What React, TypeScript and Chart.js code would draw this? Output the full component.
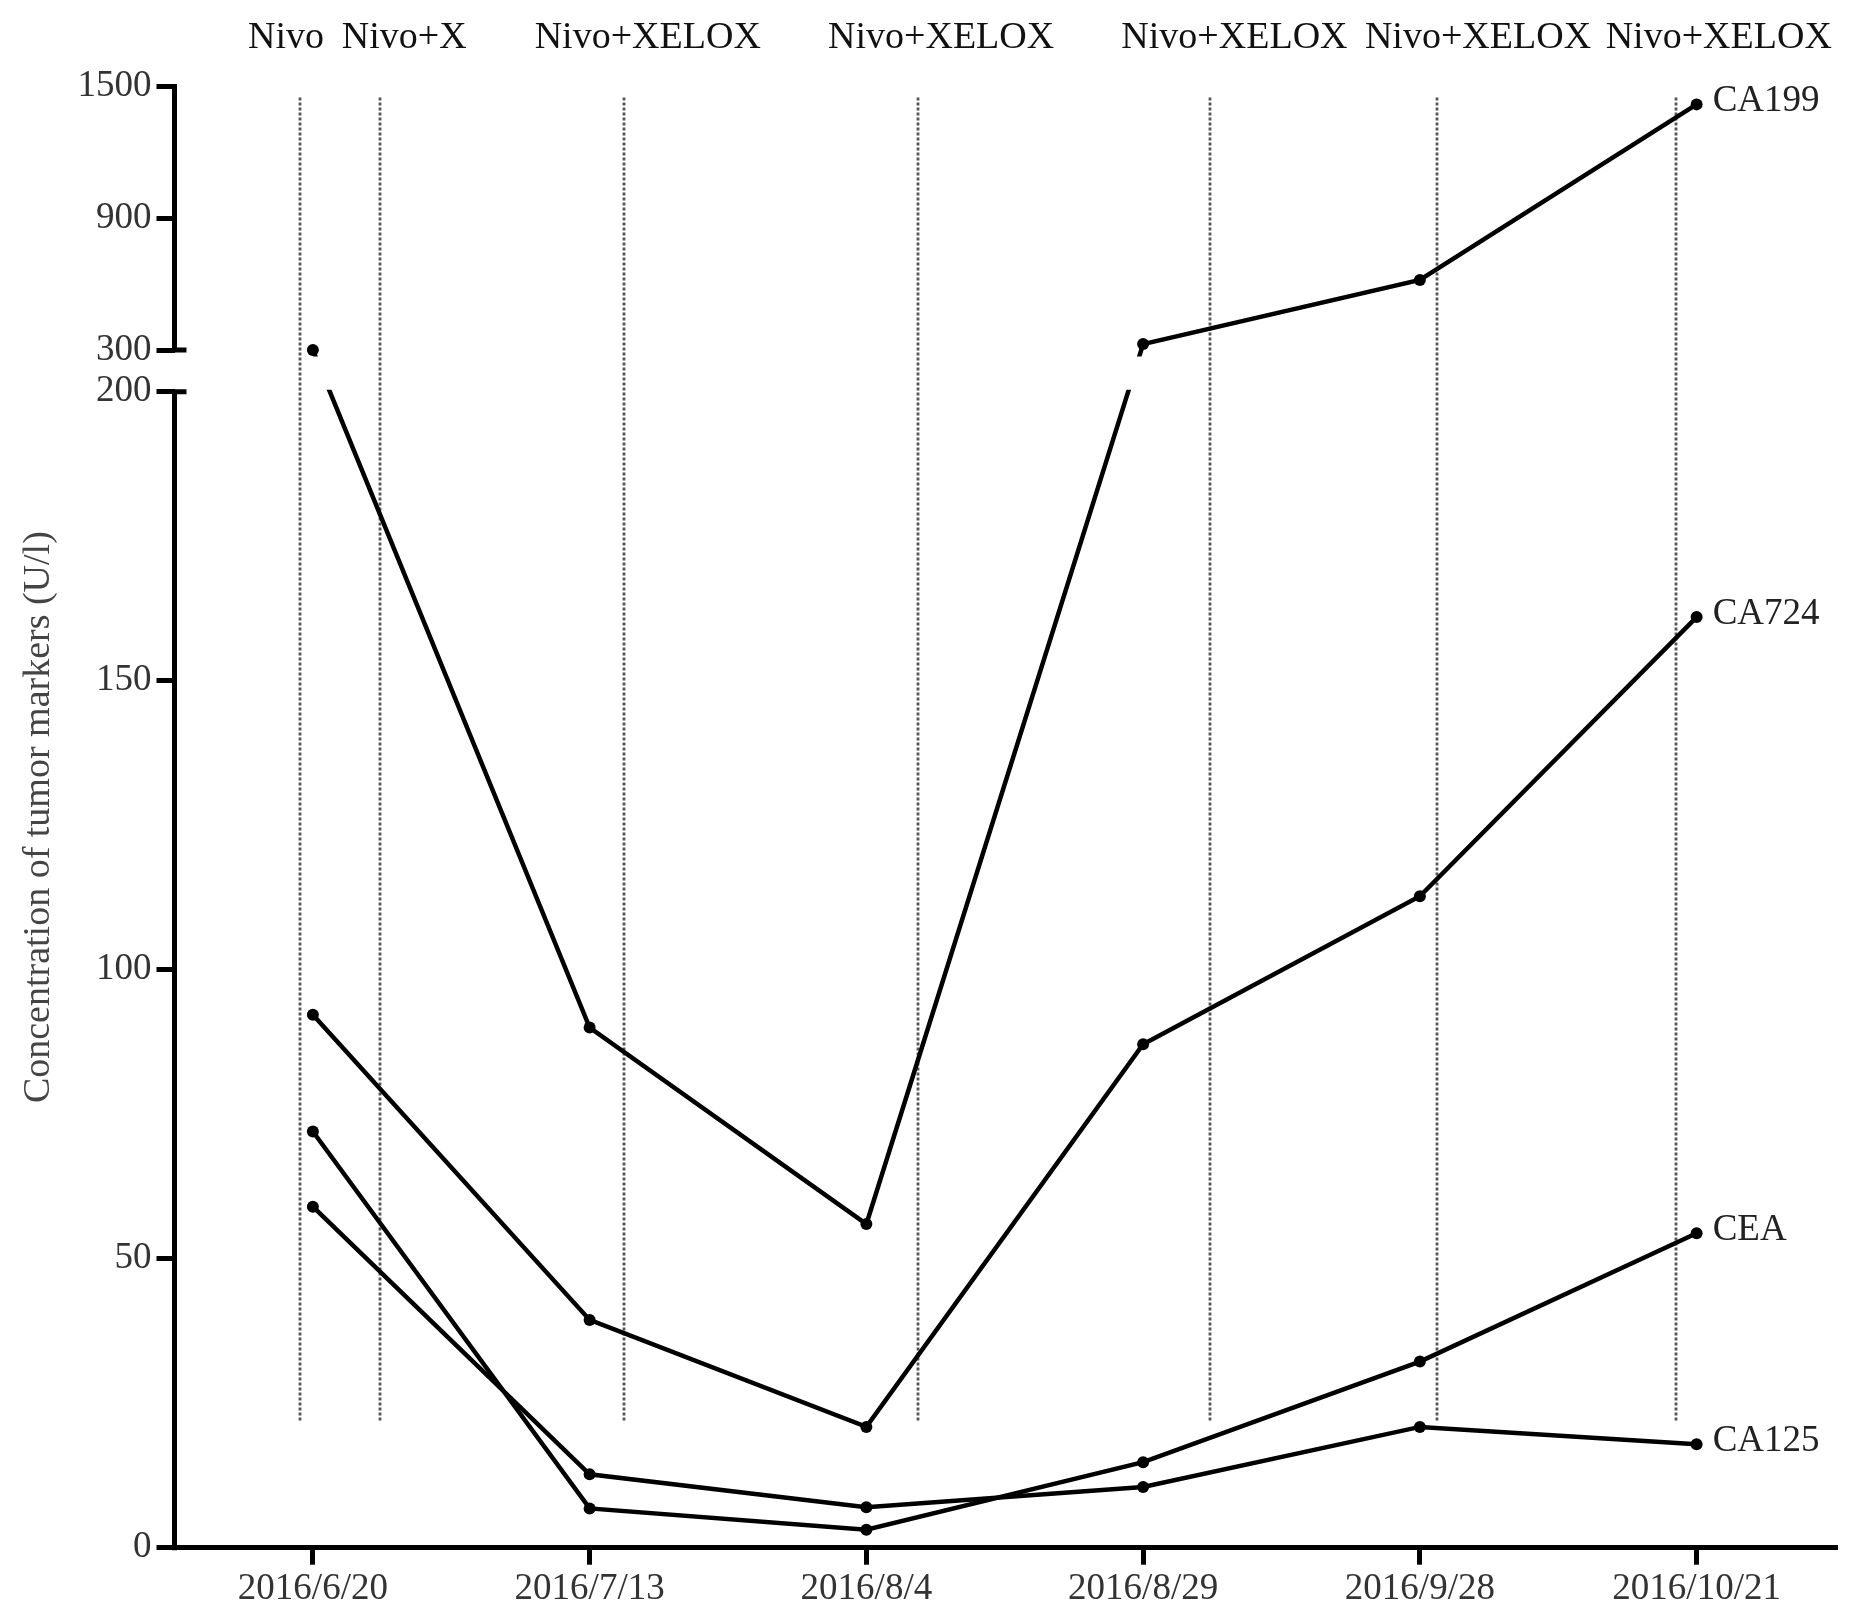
import React, { useEffect, useRef } from 'react';
import { Chart, LinearScale, registerables } from 'chart.js';

Chart.register(...registerables);

// ---- data ----
const dates = ['2016/6/20', '2016/7/13', '2016/8/4', '2016/8/29', '2016/9/28', '2016/10/21'];
const seriesNames = ['CA199', 'CA724', 'CEA', 'CA125'];
const ca199 = [300, 90, 56, 327, 619, 1419];
const ca724 = [92.2, 39.4, 20.9, 87.1, 112.7, 161];
const cea = [72, 6.8, 3.1, 14.8, 32.2, 54.4];
const ca125 = [59, 12.7, 7.0, 10.5, 20.9, 17.9];
const yTicks = [0, 50, 100, 150, 200, 300, 900, 1500];
const treatmentLabels = ['Nivo', 'Nivo+X', 'Nivo+XELOX', 'Nivo+XELOX', 'Nivo+XELOX', 'Nivo+XELOX', 'Nivo+XELOX'];
// treatment times, as fractional positions on the date axis
const treatmentAt = [-0.047, 0.244, 1.124, 2.187, 3.242, 4.061, 4.927];
const treatmentLabelAt = [-0.097, 0.33, 1.21, 2.27, 3.33, 4.21, 5.08];
const BREAK_LOW = 200;
const BREAK_HIGH = 300;
const Y_MAX = 1500;
const DOT_TOP = 1450;
const DOT_BOTTOM = 22;

// ---- layout / style ----
const W = 1861;
const H = 1623;
const LOW_FRAC = 0.7912;
const GAP_FRAC = 0.0285;
const UP_FRAC = 1 - LOW_FRAC - GAP_FRAC;
const FONT = '"Liberation Serif", "Times New Roman", serif';
const LINE_W = 4.5;
const AXIS_W = 5;

class BrokenAxis extends LinearScale {
  static id = 'brokenAxis';
  static defaults = LinearScale.defaults;
  buildTicks() {
    return yTicks.map((v) => ({ value: v }));
  }
  getPixelForValue(value: number) {
    let dec: number;
    if (value <= BREAK_LOW) dec = (value / BREAK_LOW) * LOW_FRAC;
    else if (value >= BREAK_HIGH)
      dec = LOW_FRAC + GAP_FRAC + ((value - BREAK_HIGH) / (Y_MAX - BREAK_HIGH)) * UP_FRAC;
    else dec = LOW_FRAC + ((value - BREAK_LOW) / (BREAK_HIGH - BREAK_LOW)) * GAP_FRAC;
    return this.getPixelForDecimal(dec);
  }
  getValueForPixel(pixel: number) {
    const dec = this.getDecimalForPixel(pixel);
    if (dec <= LOW_FRAC) return (dec / LOW_FRAC) * BREAK_LOW;
    if (dec >= LOW_FRAC + GAP_FRAC)
      return BREAK_HIGH + ((dec - LOW_FRAC - GAP_FRAC) / UP_FRAC) * (Y_MAX - BREAK_HIGH);
    return BREAK_LOW + ((dec - LOW_FRAC) / GAP_FRAC) * (BREAK_HIGH - BREAK_LOW);
  }
}
Chart.register(BrokenAxis as any);

const brokenPlugin = {
  id: 'brokenPlugin',
  beforeDatasetsDraw(chart: any) {
    const { ctx, chartArea } = chart;
    const x = chart.scales.x;
    const y = chart.scales.y;
    // dotted treatment lines
    ctx.save();
    ctx.strokeStyle = '#555';
    ctx.lineWidth = 2.8;
    ctx.setLineDash([3, 2]);
    const yt = y.getPixelForValue(DOT_TOP);
    const yb = y.getPixelForValue(DOT_BOTTOM);
    treatmentAt.forEach((t) => {
      const px = Math.round(x.getPixelForValue(t));
      ctx.beginPath();
      ctx.moveTo(px, yt);
      ctx.lineTo(px, yb);
      ctx.stroke();
    });
    ctx.restore();
    // clip out the axis-break band
    const gTop = y.getPixelForValue(BREAK_HIGH) + 6.5;
    const gBot = y.getPixelForValue(BREAK_LOW) - 2;
    ctx.save();
    ctx.beginPath();
    ctx.rect(0, 0, chart.width, chart.height);
    ctx.rect(chartArea.left, gTop, chartArea.right - chartArea.left, gBot - gTop);
    ctx.clip('evenodd');
  },
  afterDatasetsDraw(chart: any) {
    const { ctx, chartArea } = chart;
    ctx.restore();
    const x = chart.scales.x;
    const y = chart.scales.y;
    // broken y-axis line
    ctx.save();
    ctx.strokeStyle = '#000';
    ctx.lineWidth = AXIS_W;
    const ax = chartArea.left;
    const h = AXIS_W / 2;
    const p1500 = y.getPixelForValue(Y_MAX);
    const p300 = y.getPixelForValue(BREAK_HIGH);
    const p200 = y.getPixelForValue(BREAK_LOW);
    const p0 = y.getPixelForValue(0);
    ctx.beginPath();
    ctx.moveTo(ax, p1500 - h);
    ctx.lineTo(ax, p300 + h);
    ctx.moveTo(ax, p200 - h);
    ctx.lineTo(ax, p0 + h);
    ctx.moveTo(ax - h, p300);
    ctx.lineTo(ax + 12, p300);
    ctx.moveTo(ax - h, p200);
    ctx.lineTo(ax + 12, p200);
    ctx.stroke();
    ctx.restore();
    // series labels
    ctx.save();
    ctx.font = `37px ${FONT}`;
    ctx.fillStyle = '#222';
    ctx.textAlign = 'left';
    ctx.textBaseline = 'middle';
    chart.data.datasets.forEach((ds: any, i: number) => {
      const meta = chart.getDatasetMeta(i);
      const pt = meta.data[meta.data.length - 1];
      ctx.fillText(ds.label, pt.x + 16, pt.y - 3);
    });
    ctx.restore();
    // treatment labels on top
    ctx.save();
    ctx.font = `38px ${FONT}`;
    ctx.fillStyle = '#111';
    ctx.textAlign = 'center';
    ctx.textBaseline = 'middle';
    treatmentLabels.forEach((lab, i) => {
      ctx.fillText(lab, x.getPixelForValue(treatmentLabelAt[i]), 38);
    });
    ctx.restore();
  },
};

export default function App() {
  const ref = useRef<HTMLCanvasElement | null>(null);
  useEffect(() => {
    if (!ref.current) return;
    const mk = (label: string, data: number[]) => ({
      label,
      data,
      borderColor: '#000',
      backgroundColor: '#000',
      borderWidth: LINE_W,
      pointRadius: 6,
      pointBorderWidth: 0,
      pointBackgroundColor: '#000',
      tension: 0,
      fill: false,
    });
    const chart = new Chart(ref.current, {
      type: 'line',
      data: {
        labels: dates,
        datasets: [
          mk(seriesNames[0], ca199),
          mk(seriesNames[1], ca724),
          mk(seriesNames[2], cea),
          mk(seriesNames[3], ca125),
        ],
      },
      options: {
        responsive: false,
        animation: false,
        devicePixelRatio: 1,
        layout: { padding: { left: 16, top: 86.6, right: 26, bottom: 0 } },
        plugins: { legend: { display: false }, tooltip: { enabled: false }, title: { display: false } },
        scales: {
          x: {
            type: 'category',
            offset: true,
            border: { display: true, color: '#000', width: AXIS_W },
            grid: { drawOnChartArea: false, drawTicks: true, tickLength: 17, color: '#000', lineWidth: AXIS_W },
            ticks: { autoSkip: false, maxRotation: 0, padding: 2, color: '#333', font: { family: FONT, size: 37 } },
            afterFit: (s: any) => {
              s.height = 75.3;
            },
          },
          y: {
            type: 'brokenAxis' as any,
            min: 0,
            max: Y_MAX,
            border: { display: false },
            grid: { drawOnChartArea: false, drawTicks: true, tickLength: 18, color: '#000', lineWidth: AXIS_W },
            ticks: {
              autoSkip: false,
              padding: 5,
              color: '#333',
              font: { family: FONT, size: 37 },
              callback: (v: any) => String(v),
            },
            title: {
              display: true,
              text: 'Concentration of tumor markers (U/l)',
              color: '#444',
              padding: 0,
              font: { family: FONT, size: 38 },
            },
            afterFit: (s: any) => {
              s.width = 158.5;
            },
          },
        },
      },
      plugins: [brokenPlugin],
    } as any);
    return () => chart.destroy();
  }, []);
  return (
    <div style={{ position: 'absolute', left: 0, top: 0, width: W, height: H, background: '#fff' }}>
      <canvas ref={ref} width={W} height={H} style={{ display: 'block' }} />
    </div>
  );
}
